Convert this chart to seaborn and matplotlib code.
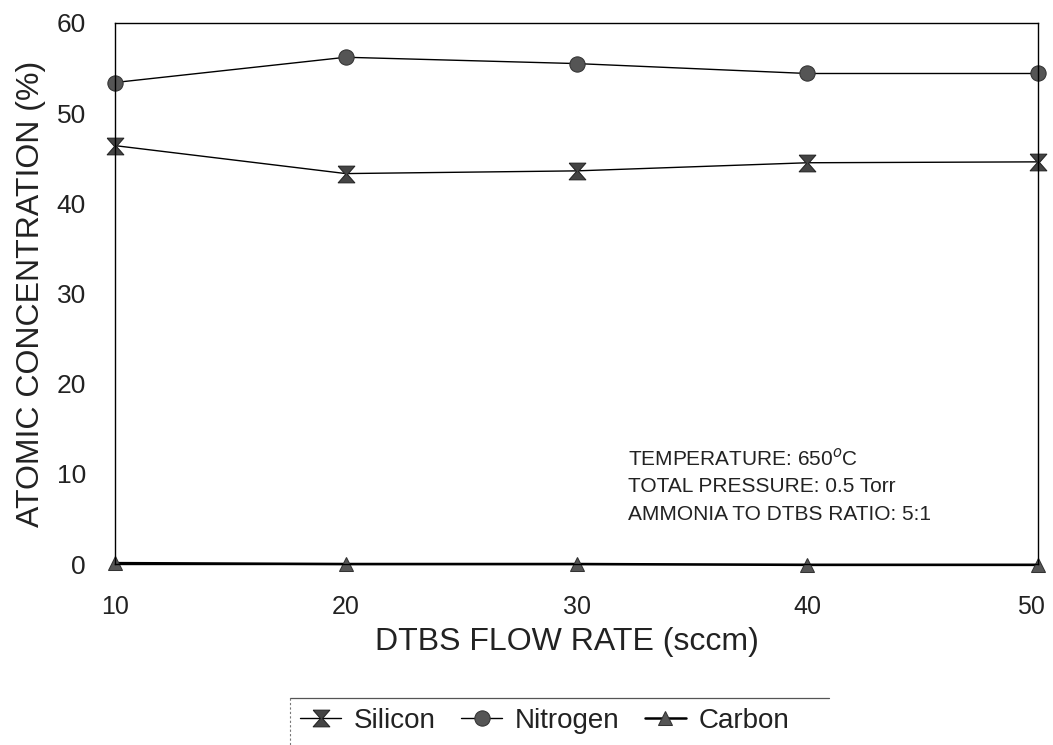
import numpy as np
import pandas as pd
import matplotlib
matplotlib.use("Agg")
import matplotlib.pyplot as plt
import matplotlib.transforms as mtransforms
from matplotlib.lines import Line2D
import seaborn as sns

flow_rate = [10, 20, 30, 40, 50]
silicon = [46.4, 43.3, 43.6, 44.5, 44.6]
nitrogen = [53.4, 56.2, 55.5, 54.4, 54.4]
carbon = [0.1, 0.0, 0.0, -0.1, -0.1]
y_ticks = [0, 10, 20, 30, 40, 50, 60]
x_ticks = [10, 20, 30, 40, 50]

sns.set_theme(style="white")
plt.rcParams['font.family'] = ['Liberation Sans', 'DejaVu Sans']

W, H = 1053, 745
fig = plt.figure(figsize=(W/100, H/100), dpi=100)
L, R, T, B = 115, 1038, 23, 564
ax = fig.add_axes([L/W, 1-B/H, (R-L)/W, (B-T)/H])

hourglass = [(-1, 1), (1, 1), (0.12, 0), (1, -1), (-1, -1), (-0.12, 0), (-1, 1)]

sns.lineplot(x=flow_rate, y=silicon, ax=ax, color='black', lw=1.0,
             marker=hourglass, markersize=12, markerfacecolor='#444444',
             markeredgecolor='#222222', label='Silicon', clip_on=False)
sns.lineplot(x=flow_rate, y=nitrogen, ax=ax, color='black', lw=1.0,
             marker='o', markersize=11, markerfacecolor='#555555',
             markeredgecolor='#333333', label='Nitrogen', clip_on=False)
sns.lineplot(x=flow_rate, y=carbon, ax=ax, color='black', lw=1.8,
             marker='^', markersize=10, markerfacecolor='#555555',
             markeredgecolor='#333333', label='Carbon', clip_on=False)

ax.set_xlim(10, 50)
ax.set_ylim(0, 60)
ax.set_xticks(x_ticks)
ax.set_yticks(y_ticks)
ax.tick_params(axis='y', direction='out', length=7, width=1, color='black',
               labelsize=19, pad=14)
ax.tick_params(axis='x', length=0, labelsize=18, pad=22)
for s in ax.spines.values():
    s.set_visible(True)
    s.set_color('black')
    s.set_linewidth(1.0)
for lab in ax.get_yticklabels() + ax.get_xticklabels():
    lab.set_color('#222222')
last = ax.get_xticklabels()[-1]
last.set_transform(last.get_transform() + mtransforms.ScaledTranslation(-7/100, 0, fig.dpi_scale_trans))

ax.set_xlabel('DTBS FLOW RATE (sccm)', fontsize=23, color='#222222')
ax.set_ylabel('ATOMIC CONCENTRATION (%)', fontsize=23, color='#222222')
ax.xaxis.label.set_va('center')
ax.yaxis.label.set_va('center')
ax.xaxis.set_label_coords(0.49, (B-642)/(B-T))
ax.yaxis.set_label_coords((31-L)/(R-L), 0.5)

fig.text(628/W, 1-447/H, 'TEMPERATURE: 650$^o$C\nTOTAL PRESSURE: 0.5 Torr\nAMMONIA TO DTBS RATIO: 5:1',
         fontsize=15, color='#222222', va='top', ha='left', linespacing=1.55)

leg = ax.legend(loc='upper left', bbox_to_anchor=(290/W, 1-698/H),
                bbox_transform=fig.transFigure, ncol=3, fontsize=20,
                frameon=False, handlelength=1.5,
                handletextpad=0.45, columnspacing=0.9, borderpad=0.35,
                borderaxespad=0)
for t in leg.get_texts():
    t.set_color('#222222')

fig.canvas.draw()
bb = leg.get_window_extent().transformed(fig.transFigure.inverted())
fig.add_artist(Line2D([bb.x0, bb.x1 + 30/W], [bb.y1, bb.y1], transform=fig.transFigure,
                      color='#555555', lw=0.9))
fig.add_artist(Line2D([bb.x0, bb.x0], [bb.y1, 0], transform=fig.transFigure,
                      color='#777777', lw=0.8, ls=(0, (2, 2))))

fig.savefig('out.png', dpi=100)
